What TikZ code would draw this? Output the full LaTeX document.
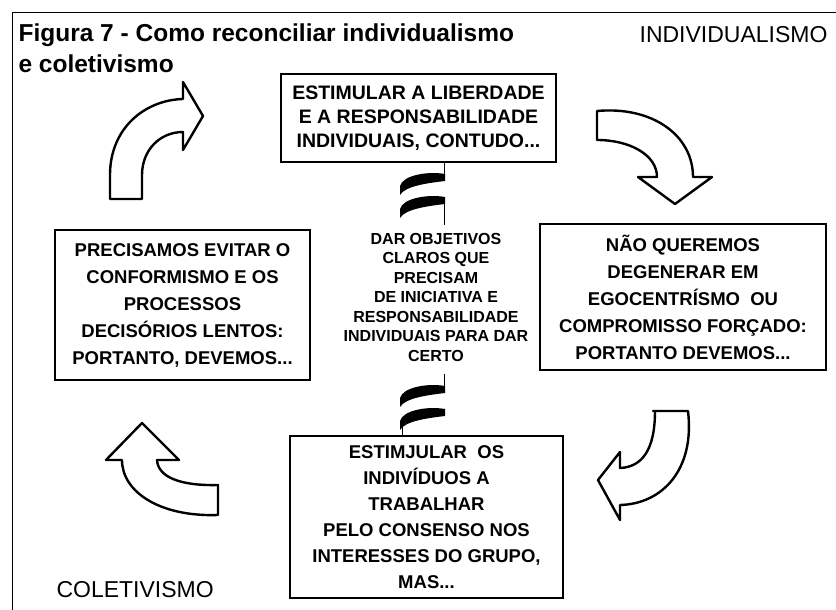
\documentclass[tikz,border=0pt]{standalone}
\usepackage{fontspec}
\setmainfont{Liberation Sans}
\begin{document}
\begin{tikzpicture}[x=1pt, y=-1pt,
    box/.style={rectangle, draw, line width=1.3pt, align=center, inner sep=0pt},
    bigarrow/.style={draw, line width=2.4pt, fill=white, line join=round},
    hump/.style={fill=black}]

    \useasboundingbox (0,0) rectangle (836,610);

    % Frame
    \draw[line width=1pt] (12,610) -- (12,13) -- (836,13);

    % Titles
    \node[anchor=west, align=left, font=\bfseries\fontsize{24.5}{31}\selectfont] (title) at (15,48) {Figura 7 - Como reconciliar individualismo\\e coletivismo};
    \node[anchor=east, font=\fontsize{23}{27}\selectfont] (indiv) at (831,35) {INDIVIDUALISMO};
    \node[anchor=west, font=\fontsize{23}{27}\selectfont] (colet) at (53,590) {COLETIVISMO};

    % Draw the four boxes
    \node[box, minimum width=275pt, minimum height=88pt, font=\bfseries\fontsize{19.5}{24}\selectfont] (liberdade) at (418.5,118) {ESTIMULAR A LIBERDADE\\E A RESPONSABILIDADE\\INDIVIDUAIS, CONTUDO...};
    \node[box, minimum width=286pt, minimum height=146pt, font=\bfseries\fontsize{18.5}{27}\selectfont] (egocentrismo) at (683,297) {NÃO QUEREMOS\\DEGENERAR EM\\EGOCENTRÍSMO\ \ OU\\COMPROMISSO FORÇADO:\\PORTANTO DEVEMOS...};
    \node[box, minimum width=273pt, minimum height=162pt, font=\bfseries\fontsize{18.5}{26}\selectfont] (consenso) at (426.5,517) {ESTIMJULAR\ \ OS\\INDIVÍDUOS A\\TRABALHAR\\PELO CONSENSO NOS\\INTERESSES DO GRUPO,\\MAS...};
    \node[box, minimum width=255pt, minimum height=150pt, font=\bfseries\fontsize{18.5}{27}\selectfont] (conformismo) at (182.5,305) {PRECISAMOS EVITAR O\\CONFORMISMO E OS\\PROCESSOS\\DECISÓRIOS LENTOS:\\PORTANTO, DEVEMOS...};

    % Centre text
    \node[align=center, font=\bfseries\fontsize{16}{19.5}\selectfont] (objetivos) at (436,297) {DAR OBJETIVOS\\CLAROS QUE\\PRECISAM\\DE INICIATIVA E\\RESPONSABILIDADE\\INDIVIDUAIS PARA DAR\\CERTO};

    % Wave marks above and below the centre text
    \foreach \oy in {162,374} {
        \begin{scope}[shift={(400,\oy)}]
            \draw[line width=1pt] (44,0) -- (44,14);
            \foreach \hy in {12,35} {
                \fill[hump] (45,\hy) .. controls (28,\hy-3) and (3,\hy+1) .. (0,\hy+12)
                    -- (0,\hy+21) .. controls (5,\hy+12) and (28,\hy+9) .. (45,\hy+7) -- cycle;
            }
        \end{scope}
    }
    \draw[line width=1pt] (444,204) -- (444,225);
    \draw[line width=1pt] (402,426) -- (consenso.north -| 402,0);

    % Curved arrows
    \draw[bigarrow] (110,199) -- (110,175) .. controls (110,128) and (145,100) .. (183,99)
        -- (183,82) -- (203,116) -- (183,150) -- (183,132)
        .. controls (160,132) and (142,150) .. (142,175) -- (142,199) -- cycle;
    \draw[bigarrow] (597,111) .. controls (652,106) and (693,135) .. (693,177)
        -- (712,177) -- (675,204) -- (638,177) -- (657,177)
        .. controls (657,155) and (630,140) .. (597,140) -- cycle;
    \draw[bigarrow] (653,411) -- (688,411) .. controls (695,470) and (662,504) .. (620,505)
        -- (620,520) -- (598,480) -- (620,452) -- (620,468)
        .. controls (642,467) and (655,450) .. (655,411) -- cycle;
    \draw[bigarrow] (218,485) -- (218,515) .. controls (160,517) and (122,492) .. (122,460)
        -- (106,460) -- (142,423) -- (179,460) -- (157,460)
        .. controls (158,477) and (180,486) .. (218,485) -- cycle;
\end{tikzpicture}
\end{document}
